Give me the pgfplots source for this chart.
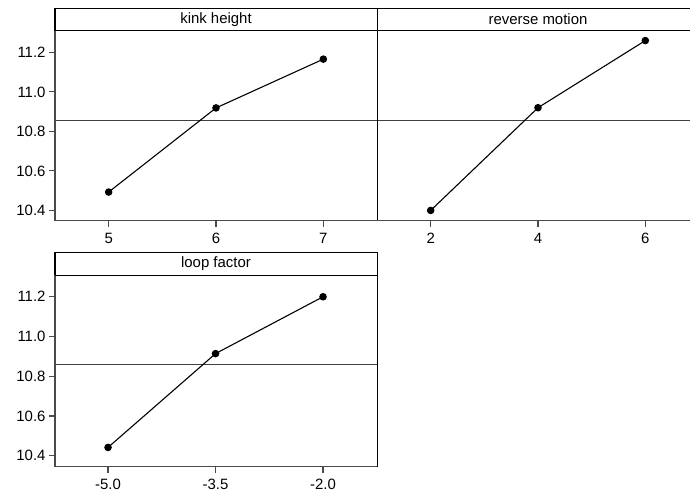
\documentclass[border=0pt]{standalone}
\usepackage{fontspec}
\setmainfont{Liberation Sans}
\usepackage{pgfplots}
\pgfplotsset{compat=1.18}

\definecolor{axisGray}{HTML}{4A4A4A}

\pgfplotsset{
  panel/.style={
    scale only axis,
    width=322bp,
    height=190bp,
    anchor=north west,
    ymin=10.348, ymax=11.31,
    axis line style={draw=none},
    tick align=outside,
    major tick length=6bp,
    tick style={draw=axisGray, line width=1.1bp},
    xtick pos=bottom, ytick pos=left,
    tick label style={font=\fontsize{15}{17}\selectfont},
    xticklabel style={yshift=-2.5bp},
    /pgf/number format/assume math mode=true,
    clip=false,
    every axis plot/.append style={line width=1.1bp},
  },
  panel y/.style={
    ytick={10.4,10.6,10.8,11.0,11.2},
    yticklabels={10.4,10.6,10.8,11.0,11.2},
  },
}

\newcommand{\frameaxis}[1]{%
  \draw[black, line width=0.8bp] (rel axis cs:0,1) -- (rel axis cs:1,1) -- (rel axis cs:1,0);
  \draw[#1] (rel axis cs:0,1) -- (rel axis cs:0,0);
  \draw[axisGray, line width=1.5bp] (rel axis cs:0,0) -- (rel axis cs:1,0);
}

\begin{document}
\begin{tikzpicture}
\begin{scope}
\clip (0bp,0bp) rectangle (690bp,-498bp);

% kink height
\begin{axis}[panel, panel y,
  at={(55bp,-30.7bp)},
  xmin=4.5, xmax=7.5,
  xtick={5,6,7}, xticklabels={5,6,7}]
  \addplot[black!75, line width=0.9bp] coordinates {(4.5,10.855) (7.5,10.855)};
  \addplot[black, mark=*, mark size=3.2bp] coordinates {
    (5,10.493) (6,10.919) (7,11.166)
  };
  \frameaxis{axisGray, line width=1.5bp}
\end{axis}

% reverse motion
\begin{axis}[panel,
  at={(377bp,-30.7bp)},
  xmin=1, xmax=7,
  ytick=\empty,
  xtick={2,4,6}, xticklabels={2,4,6}]
  \addplot[black!75, line width=0.9bp] coordinates {(1,10.855) (7,10.855)};
  \addplot[black, mark=*, mark size=3.2bp] coordinates {
    (2,10.400) (4,10.920) (6,11.260)
  };
  \frameaxis{black, line width=1bp}
\end{axis}

% loop factor
\begin{axis}[panel, panel y,
  at={(55bp,-275.3bp)},
  height=191.4bp,
  ymin=10.345, ymax=11.308,
  xmin=-5.74, xmax=-1.247,
  xtick={-5,-3.5,-2}, xticklabels={-5.0,-3.5,-2.0}]
  \addplot[black!75, line width=0.9bp] coordinates {(-5.74,10.857) (-1.247,10.857)};
  \addplot[black, mark=*, mark size=3.2bp] coordinates {
    (-5,10.442) (-3.5,10.914) (-2,11.200)
  };
  \frameaxis{axisGray, line width=1.5bp}
\end{axis}

% title strips
\draw[black, line width=0.9bp] (55bp,-8bp) rectangle (377bp,-30.7bp);
\draw[black, line width=0.9bp] (377bp,-8bp) rectangle (699bp,-30.7bp);
\draw[black, line width=0.9bp] (55bp,-252.3bp) rectangle (377bp,-275.3bp);
\draw[black, line width=1.8bp] (55bp,-8bp) -- (55bp,-30.7bp);
\draw[black, line width=1.8bp] (55bp,-252.3bp) -- (55bp,-275.3bp);
\node[font=\fontsize{15}{17}\selectfont] at (216bp,-19.4bp) {kink height};
\node[font=\fontsize{15}{17}\selectfont] at (538bp,-19.4bp) {reverse motion};
\node[font=\fontsize{15}{17}\selectfont] at (216bp,-263.8bp) {loop factor};
\end{scope}
\pgfresetboundingbox
\useasboundingbox (0bp,0bp) rectangle (690bp,-498bp);
\end{tikzpicture}
\end{document}
